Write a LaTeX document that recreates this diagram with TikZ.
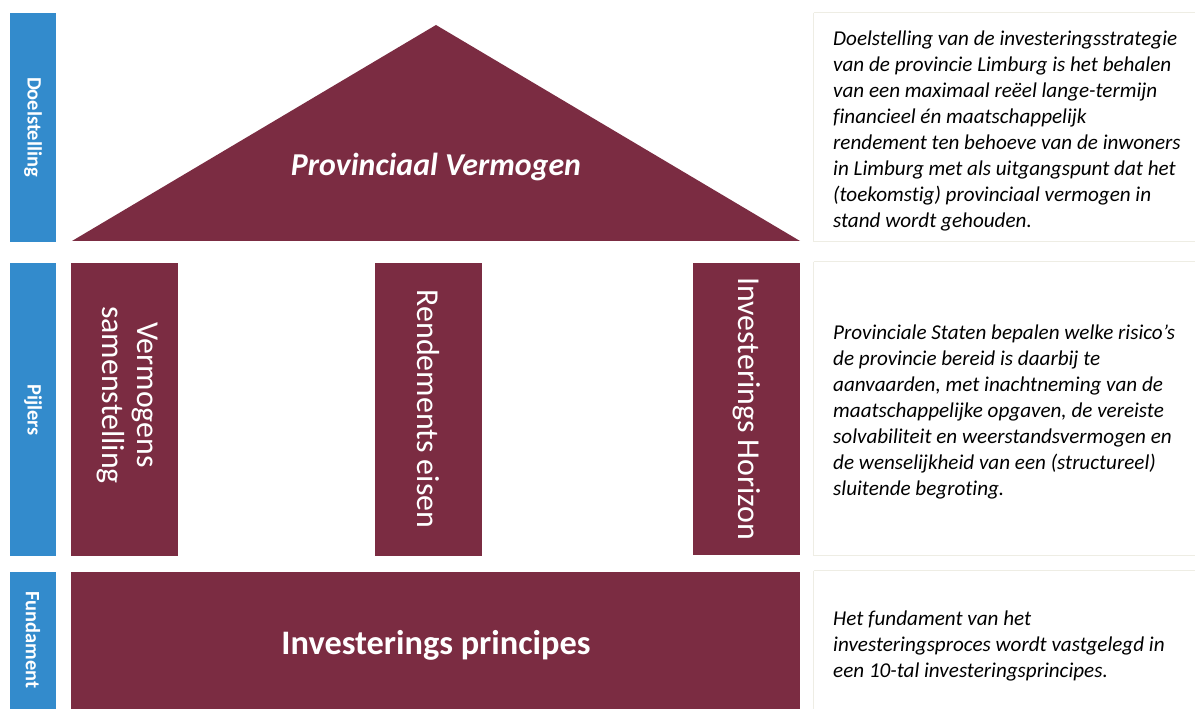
\documentclass[tikz,border=0pt]{standalone}
\usepackage{fontspec}
\setmainfont[Ligatures=NoCommon]{Carlito}
\definecolor{maroon}{HTML}{7B2C42}
\definecolor{lblue}{HTML}{338BCC}
\definecolor{boxline}{HTML}{EEEDE4}
\begin{document}
\begin{tikzpicture}[x=1bp,y=1bp,
  sidebar/.style={fill=lblue,draw=none},
  part/.style={fill=maroon,draw=none},
  sidelabel/.style={text=white,font=\fontsize{20.5}{24}\selectfont\bfseries,rotate=-90},
  pillartext/.style={text=white,font=\fontsize{32}{35}\selectfont,rotate=-90,align=center,inner sep=0},
  infobox/.style={draw=boxline,line width=1bp,fill=white},
  infotext/.style={anchor=west,align=left,font=\fontsize{21.2}{26}\selectfont\itshape,inner sep=0}
]
\useasboundingbox (0,0) rectangle (1195,709);
\fill[white] (0,0) rectangle (1195,709);
% side bars (y = 709 - Y)
\path[sidebar] (10,696) rectangle (56,467);
\path[sidebar] (10,446) rectangle (56,153);
\path[sidebar] (10,137) rectangle (56,0);
\node[sidelabel] (lab1) at (33,582) {Doelstelling};
\node[sidelabel] (lab2) at (33,299) {Pijlers};
\node[sidelabel] (lab3) at (33,69) {Fundament};
% roof
\path[part] (72,468) -- (436,684) -- (800,468) -- cycle;
\node[text=white,font=\fontsize{32}{38}\selectfont\bfseries\itshape] (roof) at (436,542) {Provinciaal Vermogen};
% pillars
\path[part] (71,446) rectangle (178,153);
\path[part] (375,446) rectangle (482,153);
\path[part] (693,446) rectangle (800,154);
\node[pillartext] (p1) at (127.5,314) {Vermogens\\samenstelling};
\node[pillartext] (p2) at (428.5,300) {Rendements eisen};
\node[pillartext] (p3) at (746.5,300) {Investerings Horizon};
% foundation
\path[part] (71,137) rectangle (800,0);
\node[text=white,font=\fontsize{34.5}{40}\selectfont\bfseries] (found) at (436,64) {Investerings principes};
% info boxes
\draw[infobox] (813.5,696) -- (1196,696) (813.5,696) -- (813.5,467) -- (1196,467);
\draw[infobox] (813.5,447) -- (1196,447) (813.5,447) -- (813.5,153) -- (1196,153);
\draw[infobox] (813.5,138) -- (1196,138) (813.5,138) -- (813.5,-1);
\node[infotext] (t1) at (833,578) {Doelstelling van de investeringsstrategie\\van de provincie Limburg is het behalen\\van een maximaal re\"eel lange-termijn\\financieel \'en maatschappelijk\\rendement ten behoeve van de inwoners\\in Limburg met als uitgangspunt dat het\\(toekomstig) provinciaal vermogen in\\stand wordt gehouden.};
\node[infotext] (t2) at (833,297) {Provinciale Staten bepalen welke risico’s\\de provincie bereid is daarbij te\\aanvaarden, met inachtneming van de\\maatschappelijke opgaven, de vereiste\\solvabiliteit en weerstandsvermogen en\\de wenselijkheid van een (structureel)\\sluitende begroting.};
\node[infotext] (t3) at (833,63) {Het fundament van het\\investeringsproces wordt vastgelegd in\\een 10-tal investeringsprincipes.};
\end{tikzpicture}
\end{document}
